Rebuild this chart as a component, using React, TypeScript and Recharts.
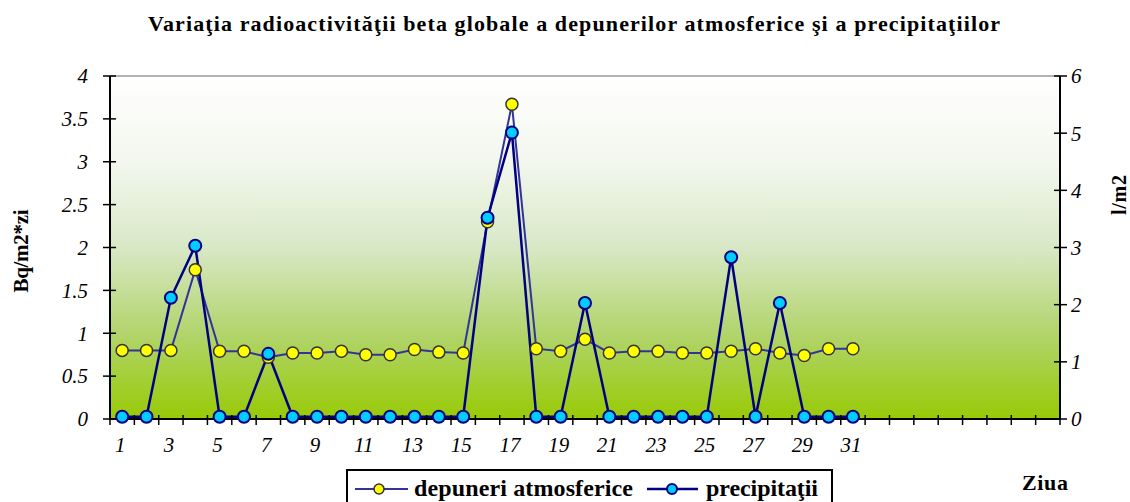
import { LineChart, Line, XAxis, YAxis, CartesianGrid, ReferenceLine } from 'recharts'

const days = [
  1, 2, 3, 4, 5, 6, 7, 8, 9, 10, 11, 12, 13, 14, 15, 16, 17, 18, 19, 20,
  21, 22, 23, 24, 25, 26, 27, 28, 29, 30, 31, 32, 33, 34, 35, 36, 37, 38, 39,
]

const dayLabels = [
  '1', '', '3', '', '5', '', '7', '', '9', '', '11', '', '13', '', '15', '', '17', '', '19', '',
  '21', '', '23', '', '25', '', '27', '', '29', '', '31', '', '', '', '', '', '', '', '',
]

// Bq/m2*zi
const depuneri = [
  0.8, 0.8, 0.8, 1.74, 0.79, 0.79, 0.72, 0.77, 0.77, 0.79, 0.75, 0.75, 0.81, 0.78, 0.77, 2.3,
  3.67, 0.82, 0.79, 0.93, 0.77, 0.79, 0.79, 0.77, 0.77, 0.79, 0.82, 0.77, 0.74, 0.82, 0.82,
  null, null, null, null, null, null, null, null,
]

// l/m2
const precipitatii = [
  0.04, 0.04, 2.12, 3.03, 0.04, 0.04, 1.14, 0.04, 0.04, 0.04, 0.04, 0.04, 0.04, 0.04, 0.04, 3.52,
  5.01, 0.04, 0.04, 2.03, 0.04, 0.04, 0.04, 0.04, 0.04, 2.83, 0.04, 2.03, 0.04, 0.04, 0.04,
  null, null, null, null, null, null, null, null,
]

const leftTicks = [0, 0.5, 1, 1.5, 2, 2.5, 3, 3.5, 4]
const rightTicks = [0, 1, 2, 3, 4, 5, 6]

const data = days.map((day, i) => ({ day, dep: depuneri[i], prec: precipitatii[i] }))

const FONT = 'Liberation Serif, Times New Roman, Times, serif'
const PLOT_W = 950
const BAND = PLOT_W / days.length

const series = [
  { key: 'dep', name: 'depuneri atmosferice', line: '#333399', fill: '#FFFF00', dotStroke: '#333333' },
  { key: 'prec', name: 'precipitaţii', line: '#000080', fill: '#00CCFF', dotStroke: '#000080' },
]

function DayTick(props: any) {
  const { x, y, index } = props
  const label = dayLabels[index]
  const last = index === days.length - 1
  return (
    <g>
      <line x1={x - BAND / 2} x2={x - BAND / 2} y1={y - 4} y2={y + 6} stroke="#000" strokeWidth={1.5} />
      {last ? <line x1={x + BAND / 2} x2={x + BAND / 2} y1={y - 4} y2={y + 6} stroke="#000" strokeWidth={1.5} /> : null}
      {label ? (
        <text x={x - 2} y={y + 33} textAnchor="middle" fontFamily={FONT} fontStyle="italic" fontSize={21} fill="#000">
          {label}
        </text>
      ) : null}
    </g>
  )
}

function LeftTick(props: any) {
  const { x, y, payload } = props
  return (
    <g>
      <line x1={x - 7} x2={x + 6} y1={y} y2={y} stroke="#000" strokeWidth={1.5} />
      <text x={x - 22} y={y} dy="0.35em" textAnchor="end" fontFamily={FONT} fontStyle="italic" fontSize={21} fill="#000">
        {payload.value}
      </text>
    </g>
  )
}

function RightTick(props: any) {
  const { x, y, payload } = props
  return (
    <g>
      <line x1={x - 6} x2={x + 7} y1={y} y2={y} stroke="#000" strokeWidth={1.5} />
      <text x={x + 11} y={y} dy="0.35em" textAnchor="start" fontFamily={FONT} fontStyle="italic" fontSize={21} fill="#000">
        {payload.value}
      </text>
    </g>
  )
}

export default function App() {
  return (
    <div style={{ position: 'absolute', left: 0, top: 0, width: 1130, height: 502, background: '#fff' }}>
      <LineChart width={1130} height={502} data={data} margin={{ top: 76, right: 0, bottom: 53, left: 0 }}>
        <defs>
          <linearGradient id="plotBg" x1="0" y1="0" x2="0" y2="1">
            <stop offset="0%" stopColor="#FFFFFF" />
            <stop offset="25%" stopColor="#F3F7EE" />
            <stop offset="50%" stopColor="#D8E8C6" />
            <stop offset="75%" stopColor="#B2D46C" />
            <stop offset="100%" stopColor="#98CA06" />
          </linearGradient>
        </defs>
        <CartesianGrid yAxisId="left" horizontal={false} vertical={false} fill="url(#plotBg)" fillOpacity={1} />
        <XAxis
          dataKey="day"
          type="category"
          height={30}
          interval={0}
          padding={{ left: BAND / 2, right: BAND / 2 }}
          tickSize={0}
          tickMargin={0}
          tickLine={false}
          axisLine={{ stroke: '#000', strokeWidth: 2 }}
          tick={<DayTick />}
        />
        <YAxis
          yAxisId="left"
          width={110}
          domain={[0, 4]}
          ticks={leftTicks}
          tickSize={0}
          tickMargin={0}
          tickLine={false}
          axisLine={{ stroke: '#000', strokeWidth: 2 }}
          tick={<LeftTick />}
        />
        <YAxis
          yAxisId="right"
          orientation="right"
          width={70}
          domain={[0, 6]}
          ticks={rightTicks}
          tickSize={0}
          tickMargin={0}
          tickLine={false}
          axisLine={{ stroke: '#000', strokeWidth: 2 }}
          tick={<RightTick />}
        />
        <ReferenceLine yAxisId="left" y={4} stroke="#999999" strokeWidth={1.5} />
        <Line
          yAxisId="left"
          dataKey="dep"
          name={series[0].name}
          stroke={series[0].line}
          strokeWidth={2}
          dot={{ r: 6, fill: series[0].fill, stroke: series[0].dotStroke, strokeWidth: 1.5 }}
          isAnimationActive={false}
        />
        <Line
          yAxisId="right"
          dataKey="prec"
          name={series[1].name}
          stroke={series[1].line}
          strokeWidth={2.5}
          dot={{ r: 6, fill: series[1].fill, stroke: series[1].dotStroke, strokeWidth: 2 }}
          isAnimationActive={false}
        />
      </LineChart>
      <svg width={1130} height={502} style={{ position: 'absolute', left: 0, top: 0, pointerEvents: 'none' }}>
        <text x={574} y={31} textAnchor="middle" fontFamily={FONT} fontWeight="bold" fontSize={22} textLength={852}>
          Variaţia radioactivităţii beta globale a depunerilor atmosferice şi a precipitaţiilor
        </text>
        <text
          transform="translate(21,251) rotate(-90)"
          textAnchor="middle"
          dominantBaseline="central"
          fontFamily={FONT}
          fontWeight="bold"
          fontSize={21}
          textLength={83}
        >
          Bq/m2*zi
        </text>
        <text
          transform="translate(1119,195) rotate(-90)"
          textAnchor="middle"
          dominantBaseline="central"
          fontFamily={FONT}
          fontWeight="bold"
          fontSize={20}
          textLength={40}
        >
          l/m2
        </text>
        <text x={1045} y={482} textAnchor="middle" dominantBaseline="central" fontFamily={FONT} fontWeight="bold" fontSize={22} textLength={46}>
          Ziua
        </text>
        <rect x={347} y={470} width={485} height={40} fill="#fff" stroke="#000" strokeWidth={2} />
        <line x1={355} x2={408} y1={489} y2={489} stroke={series[0].line} strokeWidth={2} />
        <circle cx={379} cy={489} r={5} fill={series[0].fill} stroke={series[0].dotStroke} strokeWidth={1.5} />
        <text x={414} y={496} fontFamily={FONT} fontWeight="bold" fontSize={24} textLength={219}>
          {series[0].name}
        </text>
        <line x1={647} x2={698} y1={489} y2={489} stroke={series[1].line} strokeWidth={2.5} />
        <circle cx={672} cy={489} r={5} fill={series[1].fill} stroke={series[1].dotStroke} strokeWidth={2} />
        <text x={706} y={496} fontFamily={FONT} fontWeight="bold" fontSize={24} textLength={112}>
          {series[1].name}
        </text>
      </svg>
    </div>
  )
}
